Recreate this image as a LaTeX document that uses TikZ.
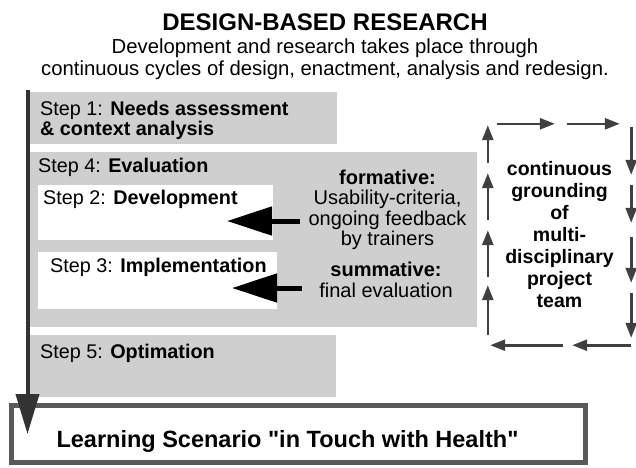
\documentclass[tikz,border=0pt]{standalone}
\usepackage{fontspec}
\setmainfont{Liberation Sans}[Ligatures=TeXOff]
\usepackage{tikz}
\usetikzlibrary{shapes, arrows.meta, positioning}
\usepackage{xcolor}
\definecolor{panelgray}{HTML}{CFCFCF}
\definecolor{arrowgray}{HTML}{404040}
\definecolor{descentgray}{HTML}{333333}
\definecolor{framegray}{HTML}{595959}
\tikzstyle{panel} = [
    rectangle,
    fill=panelgray,
    anchor=north west,
    inner sep=0pt,
    outer sep=0pt
]
\tikzstyle{slot} = [
    rectangle,
    fill=white,
    anchor=north west,
    inner sep=0pt,
    outer sep=0pt
]
\tikzstyle{steptext} = [
    anchor=base west,
    inner sep=0pt,
    font=\fontsize{19.8}{22}\selectfont
]
\tikzstyle{feedback} = [
    align=center,
    inner sep=0pt,
    font=\fontsize{20}{20.5}\selectfont
]
\tikzstyle{push} = [
    line width=5pt,
    -{Triangle[length=45pt, width=28pt]}
]
\tikzstyle{loopflow} = [
    draw=arrowgray,
    line width=2.6pt,
    -{Triangle[length=15pt, width=11pt]}
]
\tikzstyle{descent} = [
    draw=descentgray,
    line width=4pt,
    -{Triangle[length=40pt, width=23pt]}
]

\begin{document}
\begin{tikzpicture}[x=1pt, y=-1pt]
    \useasboundingbox (0,0) rectangle (636,467);

    % heading
    \node[font=\fontsize{24}{28}\selectfont\bfseries, anchor=base] (heading) at (325,30) {DESIGN-BASED RESEARCH};
    \node[font=\fontsize{20.3}{22}\selectfont, anchor=base] (summary) at (325,53) {Development and research takes place through};
    \node[font=\fontsize{20.3}{22}\selectfont, anchor=base] (summary2) at (325,75) {continuous cycles of design, enactment, analysis and redesign.};

    % steps
    \node[panel, minimum width=307pt, minimum height=52pt] (needs) at (30,92) {};
    \node[panel, minimum width=447pt, minimum height=175pt] (evaluation) at (30,152) {};
    \node[slot, minimum width=235pt, minimum height=55pt] (development) at (38,185) {};
    \node[slot, minimum width=239pt, minimum height=57pt] (implementation) at (38,252) {};
    \node[panel, minimum width=306pt, minimum height=62pt] (optimation) at (30,335) {};
    \node[draw=framegray, line width=5pt, fill=white, anchor=north west, inner sep=0pt, outer sep=0pt,
          minimum width=574pt, minimum height=57pt] (scenario) at (11.5,405.5) {};

    \node[steptext] (needslabel) at (40,115) {Step 1: \textbf{Needs assessment}};
    \node[steptext] (needslabel2) at (40,135) {\textbf{\& context analysis}};
    \node[steptext] (evaluationlabel) at (38,172) {Step 4: \textbf{Evaluation}};
    \node[steptext] (developmentlabel) at (43,204) {Step 2: \textbf{Development}};
    \node[steptext] (implementationlabel) at (50,272) {Step 3: \textbf{Implementation}};
    \node[steptext] (optimationlabel) at (40,358) {Step 5: \textbf{Optimation}};
    \node[anchor=base west, font=\fontsize{23.5}{26}\selectfont\bfseries] (scenariolabel) at (53,447) {Learning Scenario "in Touch with Health"};

    % evaluation feedback
    \node[feedback] (formative) at (387.5,210) {\textbf{formative:}\\Usability-criteria,\\ongoing feedback\\by trainers};
    \node[feedback] (summative) at (386,280) {\textbf{summative:}\\final evaluation};
    \coordinate (formtail) at (300,221);
    \coordinate (sumtail) at (302,288);
    \draw[push] (formtail) -- ([xshift=-46pt]development.east |- formtail);
    \draw[push] (sumtail) -- ([xshift=-45pt]implementation.east |- sumtail);

    % grounding loop
    \node[align=center, font=\fontsize{19.5}{22}\selectfont\bfseries, inner sep=0pt,
          minimum width=143pt, minimum height=221pt] (grounding) at (559.5,234.5)
          {continuous\\grounding\\of\\multi-\\disciplinary\\project\\team};
    \foreach \a/\b in {9/67, 79/132}
        \draw[loopflow] ([xshift=\a pt]grounding.north west) -- ([xshift=\b pt]grounding.north west);
    \foreach \a/\b in {3/51, 61/99, 113/159, 169/214}
        \draw[loopflow] ([yshift=-\a pt]grounding.north east) -- ([yshift=-\b pt]grounding.north east);
    \foreach \a/\b in {0/59, 68/141}
        \draw[loopflow] ([xshift=-\a pt]grounding.south east) -- ([xshift=-\b pt]grounding.south east);
    \foreach \a/\b in {10/60, 68/115, 125/172, 182/220}
        \draw[loopflow] ([yshift=\a pt]grounding.south west) -- ([yshift=\b pt]grounding.south west);

    % process arrow
    \coordinate (flowstart) at (27.5,90);
    \draw[descent] (flowstart) -- (flowstart |- scenario.center);
\end{tikzpicture}
\end{document}
